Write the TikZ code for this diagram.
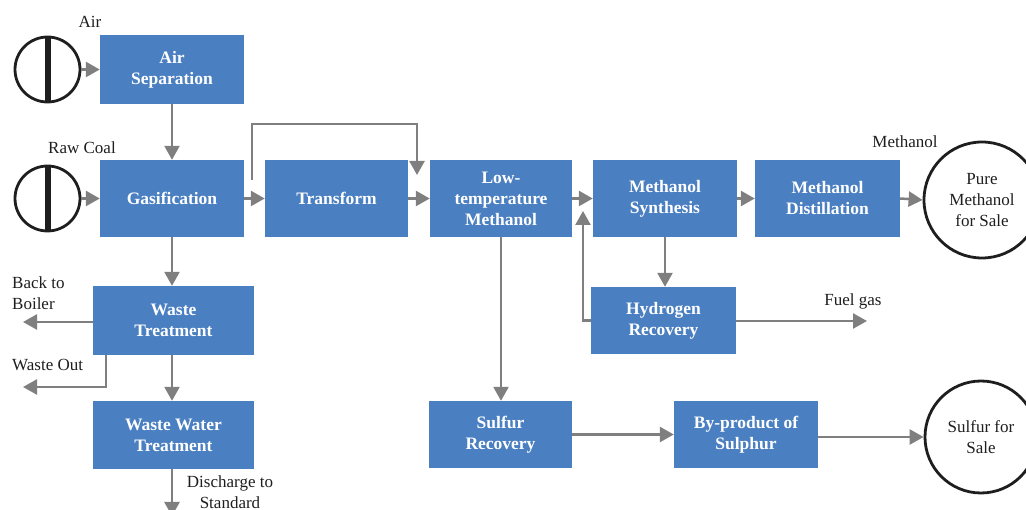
\documentclass[tikz,border=0pt]{standalone}
\usepackage{fontspec}
\setmainfont{Liberation Serif}
\usetikzlibrary{arrows.meta}
\definecolor{boxblue}{HTML}{4A7FC1}
\definecolor{flowgray}{HTML}{7F7F7F}
\definecolor{inkdark}{HTML}{1E1E1E}
\tikzset{
  unit/.style={rectangle, fill=boxblue, text=white, align=center,
    font=\fontsize{17.5}{21}\selectfont\bfseries, inner sep=2pt},
  flow/.style={draw=flowgray, line width=2.5pt,
    -{Triangle[length=14pt,width=15pt]}, color=flowgray},
  lbl/.style={text=inkdark, font=\fontsize{17}{21}\selectfont, inner sep=0pt},
  feed/.style={circle, draw=inkdark, line width=2.8pt, minimum size=65pt, inner sep=0pt},
  product/.style={circle, draw=inkdark, line width=2.8pt, inner sep=0pt,
    text=inkdark, align=center, font=\fontsize{17}{21}\selectfont}
}
\begin{document}
\begin{tikzpicture}[x=1pt,y=-1pt]
\useasboundingbox (0,0) rectangle (1026,510);

% feed sources
\node[feed] (aircirc) at (47.5,69.5) {};
\node[feed] (coalcirc) at (47.5,198.5) {};
\draw[inkdark, line width=6pt] (aircirc.north) -- (aircirc.south);
\draw[inkdark, line width=6pt] (coalcirc.north) -- (coalcirc.south);
\node[lbl] (airlbl) at (90,22) {Air};
\node[lbl] (coallbl) at (82,148) {Raw Coal};

% process units
\node[unit, minimum width=144pt, minimum height=69pt] (airsep) at (172,69.5) {Air\\Separation};
\node[unit, minimum width=144pt, minimum height=77pt] (gasif) at (172,198.5) {Gasification};
\node[unit, minimum width=143pt, minimum height=77pt] (transf) at (336.5,198.5) {Transform};
\node[unit, minimum width=142pt, minimum height=77pt] (lowtemp) at (501,198.5) {Low-\\temperature\\Methanol};
\node[unit, minimum width=144pt, minimum height=77pt] (synth) at (665,198.5) {Methanol\\Synthesis};
\node[unit, minimum width=145pt, minimum height=77pt] (distil) at (827.5,198.5) {Methanol\\Distillation};
\node[unit, minimum width=145pt, minimum height=67pt] (hydro) at (663.5,320.5) {Hydrogen\\Recovery};
\node[unit, minimum width=161pt, minimum height=69pt] (waste) at (173.5,320.5) {Waste\\Treatment};
\node[unit, minimum width=161pt, minimum height=68pt] (wwater) at (173.5,435) {Waste Water\\Treatment};
\node[unit, minimum width=143pt, minimum height=67pt] (sulfur) at (500.5,434.5) {Sulfur\\Recovery};
\node[unit, minimum width=144pt, minimum height=67pt] (byprod) at (746,434.5) {By-product of\\Sulphur};

% products
\node[product, minimum size=116pt] (pure) at (982,200) {Pure\\Methanol\\for Sale};
\node[product, minimum size=112pt] (sulsale) at (981,437) {Sulfur for\\Sale};
\node[lbl] (methlbl) at (905,142) {Methanol};

% free ends of open streams
\coordinate (bpstart) at (252,180);
\coordinate (bpend) at (417,175);
\coordinate (hret) at (583,211);
\coordinate (fuel) at (867,321);
\coordinate (boiler) at (23,322);
\coordinate (wasteout) at (23,387);
\coordinate (discharge) at (172,516);

% main line
\draw[flow] (aircirc.east) -- (airsep.west |- aircirc.east);
\draw[flow] (coalcirc.east) -- (gasif.west |- coalcirc.east);
\draw[flow] (airsep.south) -- (gasif.north);
\draw[flow] (gasif.east) -- (transf.west);
\draw[flow] (bpstart) -- ++(0,-56) -| (bpend);
\draw[flow] (transf.east) -- (lowtemp.west);
\draw[flow] (lowtemp.east) -- (synth.west);
\draw[flow] (synth.east) -- (distil.west);
\draw[flow] (distil.east) -- (pure.west);

% hydrogen loop
\draw[flow] (synth.south) -- (synth.south |- hydro.north);
\draw[flow] (hydro.west) -| (hret);
\draw[flow] (hydro.east |- fuel) -- (fuel);
\node[lbl] (fuellbl) at (853,301) {Fuel gas};

% sulphur line
\draw[flow] (lowtemp.south) -- (lowtemp.south |- sulfur.north);
\draw[flow] (sulfur.east) -- (byprod.west);
\draw[flow] (byprod.east |- sulsale.west) -- (sulsale.west);

% waste handling
\draw[flow] (gasif.south) -- (gasif.south |- waste.north);
\draw[flow] (waste.west |- boiler) -- (boiler);
\node[lbl, align=left, anchor=west] (boilerlbl) at (12,293.5) {Back to\\Boiler};
\draw[flow] ([xshift=13pt]waste.south west) |- (wasteout);
\node[lbl, anchor=west] (wolbl) at (12,365) {Waste Out};
\draw[flow] (gasif.south |- waste.south) -- (gasif.south |- wwater.north);
\draw[flow] (gasif.south |- wwater.south) -- (discharge);
\node[lbl, align=center] (dischlbl) at (230,492) {Discharge to\\Standard};
\end{tikzpicture}
\end{document}
